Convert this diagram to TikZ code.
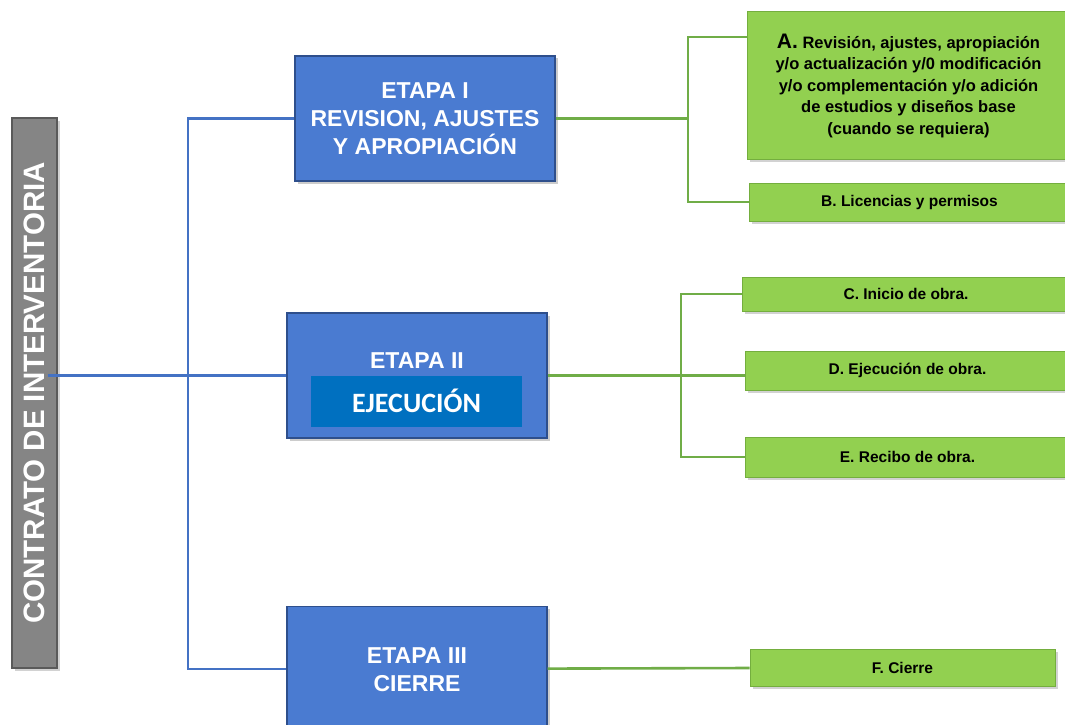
\documentclass[tikz,border=0pt]{standalone}
\usepackage{fontspec}
\setmainfont{Liberation Sans}
\newfontfamily\carlito{Carlito}
\usetikzlibrary{shadows}
\definecolor{boxblue}{HTML}{4A7BD1}
\definecolor{boxblueedge}{HTML}{2E4F8C}
\definecolor{innerblue}{HTML}{0070C0}
\definecolor{boxgreen}{HTML}{92D050}
\definecolor{boxgreenedge}{HTML}{74AE3E}
\definecolor{lineblue}{HTML}{4472C4}
\definecolor{linegreen}{HTML}{70AD47}
\definecolor{bargray}{HTML}{858585}
\definecolor{bargrayedge}{HTML}{5A5A5A}
\tikzset{
  etapa/.style={draw=boxblueedge, line width=1.2pt, fill=boxblue, text=white,
    font=\bfseries\fontsize{23}{28}\selectfont, align=center, inner sep=0pt,
    minimum width=260pt, minimum height=125pt,
    drop shadow={opacity=0.4, shadow xshift=2.5pt, shadow yshift=-2.5pt}},
  item/.style={draw=boxgreenedge, line width=1pt, fill=boxgreen, text=black,
    font=\bfseries\fontsize{15.5}{21.5}\selectfont, align=center, inner sep=0pt,
    drop shadow={opacity=0.35, shadow xshift=2.5pt, shadow yshift=-2.5pt}},
  bline/.style={draw=lineblue, line width=2.2pt},
  gline/.style={draw=linegreen, line width=2.6pt},
  graybar/.style={draw=bargrayedge, line width=1.5pt, fill=bargray, text=white,
    font=\bfseries\fontsize{29.5}{34}\selectfont, inner sep=0pt,
    drop shadow={opacity=0.35, shadow xshift=2.5pt, shadow yshift=-2.5pt}}
}
\begin{document}
\begin{tikzpicture}[x=1pt, y=-1pt]
\useasboundingbox[fill=white] (0,0) rectangle (1065,725);

% left bar
\node[graybar, rotate=90, minimum width=550pt, minimum height=45pt] (bar) at (34.5,393) {CONTRATO DE INTERVENTORIA};

% stages
\node[etapa] (e1) at (425,118.5) {ETAPA I\\REVISION, AJUSTES\\Y APROPIACIÓN};
\node[etapa] (e2) at (417,375.5) {};
\node[text=white, font=\bfseries\fontsize{23}{28}\selectfont] (e2t) at (417,361) {ETAPA II};
\node[fill=innerblue, text=white, font=\carlito\bfseries\fontsize{28}{30}\selectfont,
  minimum width=211pt, minimum height=51pt, inner sep=0pt] (e2in) at (416.5,401) {EJECUCIÓN};
\node[etapa, minimum height=124pt, anchor=north] (e3) at (417,606) {};
\node[text=white, font=\bfseries\fontsize{23}{28}\selectfont, align=center] (e3t) at (417,670) {ETAPA III\\CIERRE};

% items
\node[item, minimum width=323pt, minimum height=147pt, font=\bfseries\fontsize{16.5}{21.5}\selectfont] (A) at (908.5,85.5)
  {{\fontsize{21}{21.5}\selectfont A.} Revisión, ajustes, apropiación\\y/o actualización y/0 modificación\\y/o complementación y/o adición\\de estudios y diseños base\\(cuando se requiera)};
\node[item, minimum width=321pt, minimum height=38pt] (B) at (909.5,202) {B. Licencias y permisos};
\node[item, minimum width=328pt, minimum height=34pt] (C) at (906,294) {C. Inicio de obra.};
\node[item, minimum width=325pt, minimum height=39pt] (D) at (907.5,370.5) {D. Ejecución de obra.};
\node[item, minimum width=325pt, minimum height=40pt] (E) at (907.5,457) {E. Recibo de obra.};
\node[item, minimum width=305pt, minimum height=37pt] (F) at (902.5,668) {F. Cierre};

% blue connectors
\coordinate (bt) at (188,0);
\draw[bline] ([xshift=-10pt]bar.south |- e2.west) -- (e2.west);
\draw[bline] (e1.west) -- (e1.west -| bt) -- (e3.west -| bt) -- (e3.west);

% green connectors, stage I
\coordinate (ga) at (688,37);
\draw[gline] (e1.east) -- (e1.east -| ga);
\draw[gline] (ga -| A.west) -- (ga) -- (ga |- B.west) -- (B.west);

% green connectors, stage II
\coordinate (gb) at (681,0);
\draw[gline] (e2.east) -- (e2.east -| D.west);
\draw[gline] (C.west) -- (C.west -| gb) -- (E.west -| gb) -- (E.west);

% stage III
\draw[gline] (e3.east) -- (F.west);
\end{tikzpicture}
\end{document}
